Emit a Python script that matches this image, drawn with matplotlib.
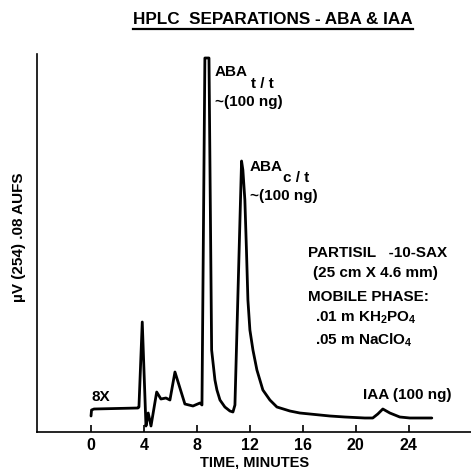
import matplotlib
matplotlib.use("Agg")
import matplotlib.pyplot as plt
from matplotlib.lines import Line2D

FAM = ['Liberation Sans', 'DejaVu Sans']
plt.rcParams['font.family'] = FAM
plt.rcParams['font.weight'] = 'bold'
plt.rcParams['mathtext.fontset'] = 'custom'
plt.rcParams['mathtext.rm'] = 'Liberation Sans:bold'
plt.rcParams['mathtext.it'] = 'Liberation Sans:bold'
plt.rcParams['mathtext.bf'] = 'Liberation Sans:bold'

# Chromatogram trace: time (min), detector signal (arbitrary units)
time_min = [0.0, 0.04, 0.23, 3.55, 3.62, 3.87, 4.15, 4.32, 4.53, 4.96, 5.28, 5.66,
            5.96, 6.34, 7.09, 7.70, 8.23, 8.38, 8.60, 8.91, 9.11, 9.36, 9.51, 9.74,
            10.11, 10.49, 10.72, 10.87, 11.37, 11.47, 11.62, 11.74, 11.85, 12.0,
            12.23, 12.53, 12.98, 13.51, 14.04, 15.02, 15.77, 18.04, 19.17, 20.68,
            21.28, 21.66, 22.04, 22.57, 23.32, 24.08, 25.74]
signal = [16, 22, 23, 24, 25, 110, 6, 19, 6, 40, 33, 34,
          32, 60, 28, 26, 29, 27, 374, 374, 82, 52, 42, 32,
          25, 21, 20, 27, 271, 262, 232, 182, 132, 102,
          82, 62, 42, 32, 25, 21, 19, 16, 15, 14,
          14, 18, 23, 19, 15, 14, 14]

xticks = [0, 4, 8, 12, 16, 20, 24]

fig = plt.figure(figsize=(4.71, 4.69), dpi=100)
W, H = 471, 469
ax = fig.add_axes([37 / W, (H - 432) / H, (W - 37) / W, (432 - 54) / H])
ax.plot(time_min, signal, color='black', lw=2.0, solid_joinstyle='round',
        solid_capstyle='round')
ax.set_xlim(-4.08, 28.7)
ax.set_ylim(0, 378)
for s in ['top', 'right']:
    ax.spines[s].set_visible(False)
for s in ['left', 'bottom']:
    ax.spines[s].set_linewidth(1.2)
ax.set_yticks([])
ax.set_xticks(xticks)
ax.set_xticklabels([str(t) for t in xticks])
ax.tick_params(axis='x', direction='in', length=5, width=1.2, pad=4, labelsize=11.5)
for lab in ax.get_xticklabels():
    lab.set_fontweight('bold')

fs = 11
ax.text(0.0, 35, '8X', fontsize=fs, ha='left', va='center')
ax.text(9.36, 360, 'ABA', fontsize=fs, ha='left', va='center')
ax.text(12.08, 348, 't / t', fontsize=fs, ha='left', va='center')
ax.text(9.36, 330, '~(100 ng)', fontsize=fs, ha='left', va='center')
ax.text(12.0, 265, 'ABA', fontsize=fs, ha='left', va='center')
ax.text(14.49, 254, 'c / t', fontsize=fs, ha='left', va='center')
ax.text(12.0, 236, '~(100 ng)', fontsize=fs, ha='left', va='center')
ax.text(16.38, 179, 'PARTISIL   -10-SAX', fontsize=fs, ha='left', va='center')
ax.text(16.75, 159, '(25 cm X 4.6 mm)', fontsize=fs, ha='left', va='center')
ax.text(16.38, 135, 'MOBILE PHASE:', fontsize=fs, ha='left', va='center')
ax.text(16.9, 114, r'.01 m KH$_2$PO$_4$', fontsize=fs, ha='left', va='center')
ax.text(16.9, 92, r'.05 m NaClO$_4$', fontsize=fs, ha='left', va='center')
ax.text(23.9, 37, 'IAA (100 ng)', fontsize=fs, ha='center', va='center')

fig.text(255 / W, (H - 462) / H, 'TIME, MINUTES', fontsize=10.5, ha='center', va='center')
fig.text(19 / W, (H - 237) / H, 'µV (254) .08 AUFS', fontsize=11, ha='center',
         va='center', rotation=90)

title = fig.text(273 / W, (H - 19) / H, 'HPLC  SEPARATIONS - ABA & IAA', fontsize=12.3,
                 ha='center', va='center')
fig.canvas.draw()
bb = title.get_window_extent()
uy = (H - 29) / H
fig.add_artist(Line2D([bb.x0 / W, bb.x1 / W], [uy, uy], color='black', lw=1.6,
                      transform=fig.transFigure))

fig.savefig('out.png', dpi=100)
